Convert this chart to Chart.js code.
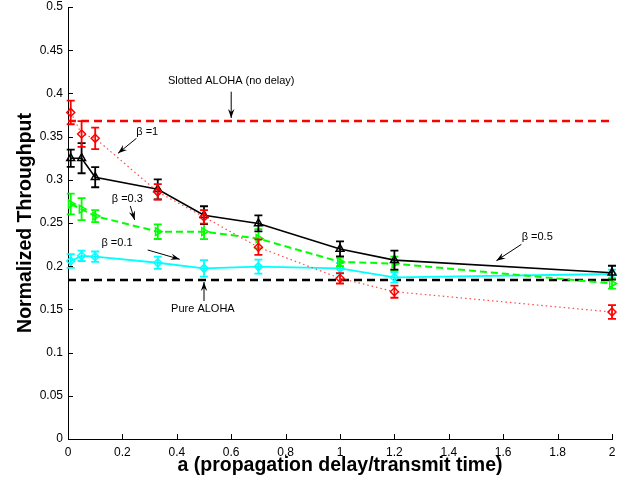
<!DOCTYPE html>
<html>
<head>
<meta charset="utf-8">
<script src="https://cdn.jsdelivr.net/npm/chart.js@4.4.1/dist/chart.umd.min.js"></script>
<style>
  html, body { margin: 0; padding: 0; background: #fff; }
  #grafico { display: block; }
</style>
</head>
<body>
<canvas id="grafico" width="628" height="480"></canvas>
<script>
// valores
const aValues = [0.01, 0.05, 0.1, 0.33, 0.5, 0.7, 1, 1.2, 2];

const beta1 = [0.378, 0.353, 0.348, 0.286, 0.257, 0.222, 0.186, 0.1705, 0.147];
const beta1Err = [0.0137, 0.0148, 0.0125, 0.009, 0.0078, 0.009, 0.006, 0.007, 0.008];

const beta05 = [0.325, 0.325, 0.303, 0.289, 0.259, 0.2495, 0.220, 0.207, 0.1925];
const beta05Err = [0.010, 0.0174, 0.0116, 0.0116, 0.0104, 0.0093, 0.0087, 0.011, 0.008];

const beta03 = [0.272, 0.266, 0.258, 0.240, 0.240, 0.232, 0.205, 0.203, 0.180];
const beta03Err = [0.012, 0.0127, 0.007, 0.0085, 0.0087, 0.011, 0.005, 0.008, 0.006];

const beta01 = [0.206, 0.212, 0.211, 0.204, 0.1975, 0.1995, 0.1975, 0.187, 0.191];
const beta01Err = [0.008, 0.006, 0.006, 0.007, 0.0096, 0.008, 0.006, 0.006, 0.005];

const slottedAloha = 0.368;
const pureAloha = 0.184;
const xRange = [0, 2];

const xTicks = [0, 0.2, 0.4, 0.6, 0.8, 1, 1.2, 1.4, 1.6, 1.8, 2];
const xTickLabels = ['0', '0.2', '0.4', '0.6', '0.8', '1', '1.2', '1.4', '1.6', '1.8', '2'];
const yTicks = [0, 0.05, 0.1, 0.15, 0.2, 0.25, 0.3, 0.35, 0.4, 0.45, 0.5];
const yTickLabels = ['0', '0.05', '0.1', '0.15', '0.2', '0.25', '0.3', '0.35', '0.4', '0.45', '0.5'];

// textos com seta (coordenadas nos eixos)
const notas = [
    { text: 'Slotted ALOHA (no delay)', x: 0.6, y: 0.414, align: 'center', de: [0.6, 0.402], ate: [0.6, 0.3715] },
    { text: 'β =1', x: 0.251, y: 0.3557, align: 'left', de: [0.2515, 0.348], ate: [0.184, 0.3307] },
    { text: 'β =0.3', x: 0.161, y: 0.2778, align: 'left', de: [0.229, 0.2697], ate: [0.245, 0.2535] },
    { text: 'β =0.1', x: 0.123, y: 0.2272, align: 'left', de: [0.293, 0.2188], ate: [0.4107, 0.208] },
    { text: 'β =0.5', x: 1.668, y: 0.2341, align: 'left', de: [1.667, 0.2253], ate: [1.575, 0.2064] },
    { text: 'Pure ALOHA', x: 0.496, y: 0.1505, align: 'center', de: [0.5, 0.1597], ate: [0.5, 0.1817] }
];

const fonte = '"Liberation Sans", Arial, Helvetica, sans-serif';

function pontos(ys) {
    return aValues.map((a, i) => ({ x: a, y: ys[i] }));
}

function seta(ctx, x1, y1, x2, y2) {
    const ang = Math.atan2(y2 - y1, x2 - x1);
    ctx.beginPath();
    ctx.moveTo(x1, y1);
    ctx.lineTo(x2, y2);
    ctx.stroke();
    ctx.beginPath();
    ctx.moveTo(x2, y2);
    ctx.lineTo(x2 - 9 * Math.cos(ang) + 3.2 * Math.sin(ang), y2 - 9 * Math.sin(ang) - 3.2 * Math.cos(ang));
    ctx.lineTo(x2 - 6 * Math.cos(ang), y2 - 6 * Math.sin(ang));
    ctx.lineTo(x2 - 9 * Math.cos(ang) - 3.2 * Math.sin(ang), y2 - 9 * Math.sin(ang) + 3.2 * Math.cos(ang));
    ctx.closePath();
    ctx.fill();
}

const extras = {
    id: 'extras',
    beforeDatasetDraw(chart, args) {
        const ds = chart.data.datasets[args.index];
        if (!ds.erros) return;
        const ctx = chart.ctx, sx = chart.scales.x, sy = chart.scales.y;
        ctx.save();
        ctx.strokeStyle = ds.barColor || ds.borderColor;
        ctx.lineWidth = 1.8;
        ctx.setLineDash([]);
        ds.data.forEach((p, i) => {
            const px = sx.getPixelForValue(p.x);
            const top = sy.getPixelForValue(p.y + ds.erros[i]);
            const bot = sy.getPixelForValue(p.y - ds.erros[i]);
            ctx.beginPath();
            ctx.moveTo(px, top); ctx.lineTo(px, bot);
            ctx.moveTo(px - 4, top); ctx.lineTo(px + 4, top);
            ctx.moveTo(px - 4, bot); ctx.lineTo(px + 4, bot);
            ctx.stroke();
        });
        ctx.restore();
    },
    afterDraw(chart) {
        const ctx = chart.ctx, sx = chart.scales.x, sy = chart.scales.y;
        const area = chart.chartArea;
        ctx.save();
        // ticks para dentro (estilo matlab)
        ctx.strokeStyle = '#000';
        ctx.lineWidth = 1;
        ctx.beginPath();
        xTicks.forEach(v => {
            const px = Math.round(sx.getPixelForValue(v)) + 0.5;
            ctx.moveTo(px, area.bottom); ctx.lineTo(px, area.bottom - 5);
        });
        yTicks.forEach(v => {
            const py = Math.round(sy.getPixelForValue(v)) + 0.5;
            ctx.moveTo(area.left, py); ctx.lineTo(area.left + 5, py);
        });
        ctx.stroke();

        // anotacoes
        ctx.fillStyle = '#000';
        ctx.font = '11px ' + fonte;
        ctx.textBaseline = 'middle';
        notas.forEach(n => {
            ctx.textAlign = n.align;
            ctx.fillText(n.text, sx.getPixelForValue(n.x), sy.getPixelForValue(n.y));
            seta(ctx, sx.getPixelForValue(n.de[0]), sy.getPixelForValue(n.de[1]),
                sx.getPixelForValue(n.ate[0]), sy.getPixelForValue(n.ate[1]));
        });

        // titulos dos eixos
        ctx.font = 'bold 19.5px ' + fonte;
        ctx.textAlign = 'center';
        ctx.fillText('a (propagation delay/transmit time)', (area.left + area.right) / 2, 466);
        ctx.translate(26, (area.top + area.bottom) / 2);
        ctx.rotate(-Math.PI / 2);
        ctx.fillText('Normalized Throughput', 0, 0);
        ctx.restore();
    }
};

const ctx = document.getElementById('grafico').getContext('2d');

new Chart(ctx, {
    type: 'line',
    data: {
        datasets: [{
            label: 'Slotted ALOHA',
            data: xRange.map(a => ({ x: a, y: slottedAloha })),
            borderColor: '#ff0000',
            borderWidth: 2.5,
            borderDash: [8, 5],
            pointRadius: 0,
            order: 6
        }, {
            label: 'Pure ALOHA',
            data: xRange.map(a => ({ x: a, y: pureAloha })),
            borderColor: '#000000',
            borderWidth: 2.5,
            borderDash: [8, 5],
            pointRadius: 0,
            order: 5
        }, {
            label: 'beta 0.1',
            data: pontos(beta01),
            erros: beta01Err,
            borderColor: '#00ffff',
            borderWidth: 1.8,
            pointStyle: 'rectRot',
            pointRadius: 4,
            pointBorderWidth: 1.5,
            pointBackgroundColor: 'rgba(0,0,0,0)',
            order: 4
        }, {
            label: 'beta 0.3',
            data: pontos(beta03),
            erros: beta03Err,
            borderColor: '#00ff00',
            borderWidth: 2,
            borderDash: [7, 4],
            pointStyle: 'triangle',
            pointRotation: 90,
            pointRadius: 4.5,
            pointBorderWidth: 1.5,
            pointBackgroundColor: 'rgba(0,0,0,0)',
            order: 3
        }, {
            label: 'beta 0.5',
            data: pontos(beta05),
            erros: beta05Err,
            borderColor: '#000000',
            borderWidth: 1.6,
            pointStyle: 'triangle',
            pointRadius: 4.5,
            pointBorderWidth: 1.5,
            pointBackgroundColor: 'rgba(0,0,0,0)',
            order: 2
        }, {
            label: 'beta 1',
            data: pontos(beta1),
            erros: beta1Err,
            barColor: '#ff0000',
            borderColor: 'rgba(255,40,40,0.85)',
            borderWidth: 1.2,
            borderDash: [1.5, 3],
            pointStyle: 'rectRot',
            pointRadius: 4,
            pointBorderWidth: 1.5,
            pointBorderColor: '#ff0000',
            pointBackgroundColor: 'rgba(0,0,0,0)',
            order: 1
        }].map(d => Object.assign({ fill: false, tension: 0, clip: false, pointHoverRadius: 0 }, d))
    },
    plugins: [extras],
    options: {
        responsive: false,
        animation: false,
        devicePixelRatio: 1,
        layout: { padding: { top: 7, right: 16, left: 0, bottom: 0 } },
        plugins: {
            legend: { display: false },
            tooltip: { enabled: false }
        },
        scales: {
            x: {
                type: 'linear',
                min: 0,
                max: 2,
                afterBuildTicks: s => { s.ticks = xTicks.map(v => ({ value: v })); },
                afterFit: s => { s.height = 41; },
                grid: { display: false, drawTicks: false },
                border: { display: true, color: '#000', width: 1 },
                ticks: {
                    padding: 6,
                    color: '#000',
                    maxRotation: 0,
                    autoSkip: false,
                    font: { family: fonte, size: 12 },
                    callback: (v, i) => xTickLabels[i]
                }
            },
            y: {
                type: 'linear',
                min: 0,
                max: 0.5,
                afterBuildTicks: s => { s.ticks = yTicks.map(v => ({ value: v })); },
                afterFit: s => { s.width = 68; },
                grid: { display: false, drawTicks: false },
                border: { display: true, color: '#000', width: 1 },
                ticks: {
                    padding: 5,
                    color: '#000',
                    autoSkip: false,
                    font: { family: fonte, size: 12, lineHeight: 0.3 },
                    callback: (v, i) => yTickLabels[i]
                }
            }
        }
    }
});
</script>
</body>
</html>
